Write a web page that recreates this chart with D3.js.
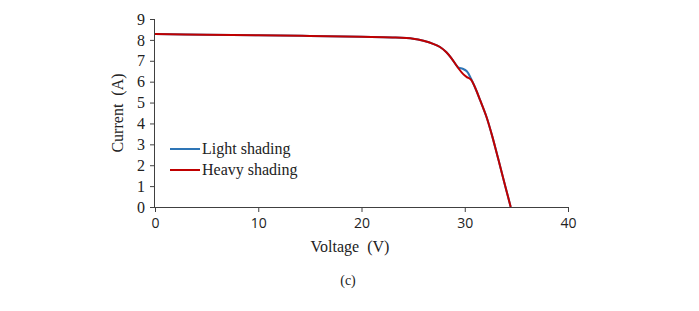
<!DOCTYPE html>
<html>
<head>
<meta charset="utf-8">
<title>I-V curve</title>
<script src="https://d3js.org/d3.v7.min.js"></script>
<style>
  body { margin: 0; background: #fff; }
  svg { display: block; }
</style>
</head>
<body>
<svg id="chart" width="699" height="311"></svg>
<script>
// values (voltage V, current A)
const heavyV = [0, 5, 10, 15, 20, 23, 25, 26, 27, 27.6, 28.2, 28.7, 29.4, 29.85, 30.2, 30.6, 31.0, 31.5, 32.1, 32.6, 33.1, 33.6, 34.0, 34.45];
const heavyI = [8.28, 8.25, 8.22, 8.19, 8.15, 8.12, 8.06, 7.96, 7.8, 7.66, 7.42, 7.13, 6.63, 6.36, 6.22, 6.1, 5.72, 5.1, 4.32, 3.5, 2.57, 1.62, 0.85, 0];
const lightV = [0, 5, 10, 15, 20, 23, 25, 26, 27, 27.6, 28.2, 28.7, 29.4, 29.8, 30.2, 30.6, 31.0, 31.5, 32.1, 32.6, 33.1, 33.6, 34.0, 34.45];
const lightI = [8.28, 8.25, 8.22, 8.19, 8.15, 8.12, 8.06, 7.96, 7.8, 7.66, 7.42, 7.13, 6.67, 6.62, 6.5, 6.15, 5.72, 5.1, 4.32, 3.5, 2.57, 1.62, 0.85, 0];
const xTicks = [0, 10, 20, 30, 40];
const yTicks = [0, 1, 2, 3, 4, 5, 6, 7, 8, 9];
const seriesNames = ["Light shading", "Heavy shading"];
const seriesColors = ["#2E75B6", "#C00000"];

const serif = "'Liberation Serif', 'Times New Roman', serif";
const sans = "'Open Sans', sans-serif";

const margin = { left: 155, top: 19, right: 131, bottom: 104 };
const W = 699, H = 311;
const iw = W - margin.left - margin.right;
const ih = H - margin.top - margin.bottom;

const svg = d3.select("#chart");
const g = svg.append("g").attr("transform", `translate(${margin.left},${margin.top})`);

const x = d3.scaleLinear().domain([0, 40]).range([0, iw]);
const y = d3.scaleLinear().domain([0, 9]).range([ih, 0]);

// axes
const xAxis = g.append("g").attr("transform", `translate(0,${ih})`)
  .call(d3.axisBottom(x).tickValues(xTicks).tickSize(5).tickPadding(6));
xAxis.selectAll("text").style("font-family", sans).style("font-size", "14px").style("fill", "#222");

const yAxis = g.append("g")
  .call(d3.axisLeft(y).tickValues(yTicks).tickSize(5).tickPadding(5));
yAxis.selectAll("text").style("font-family", serif).style("font-size", "16px").style("fill", "#222");

g.selectAll(".domain, .tick line").attr("stroke", "#404040");
xAxis.select(".domain").attr("d", `M0,0.5H${iw}`);
yAxis.select(".domain").attr("d", `M-0.5,0V${ih}`);

// lines
const line = d3.line().x(d => x(d[0])).y(d => y(d[1])).curve(d3.curveCatmullRom.alpha(0.5));
const light = lightV.map((v, i) => [v, lightI[i]]);
const heavy = heavyV.map((v, i) => [v, heavyI[i]]);

g.append("path").datum(light).attr("d", line)
  .attr("fill", "none").attr("stroke", seriesColors[0]).attr("stroke-width", 2);
g.append("path").datum(heavy).attr("d", line)
  .attr("fill", "none").attr("stroke", seriesColors[1]).attr("stroke-width", 2);

// legend
const leg = svg.append("g");
seriesNames.forEach((name, i) => {
  const yy = 149 + i * 21;
  leg.append("line").attr("x1", 170).attr("x2", 200).attr("y1", yy).attr("y2", yy)
    .attr("stroke", seriesColors[i]).attr("stroke-width", 2);
  leg.append("text").attr("x", 202).attr("y", yy + 5)
    .style("font-family", serif).style("font-size", "16px").style("fill", "#222").text(name);
});

// axis titles
svg.append("text").attr("x", 350).attr("y", 252)
  .attr("text-anchor", "middle").style("font-family", serif).style("font-size", "16px").style("fill", "#222")
  .text("Voltage\u00a0 (V)");
svg.append("text")
  .attr("transform", `translate(123,${margin.top + ih / 2}) rotate(-90)`)
  .attr("text-anchor", "middle").style("font-family", serif).style("font-size", "16px").style("fill", "#222")
  .text("Current\u00a0 (A)");

svg.append("text").attr("x", 348).attr("y", 285)
  .attr("text-anchor", "middle").style("font-family", serif).style("font-size", "14px").style("fill", "#222")
  .text("(c)");
</script>
</body>
</html>
